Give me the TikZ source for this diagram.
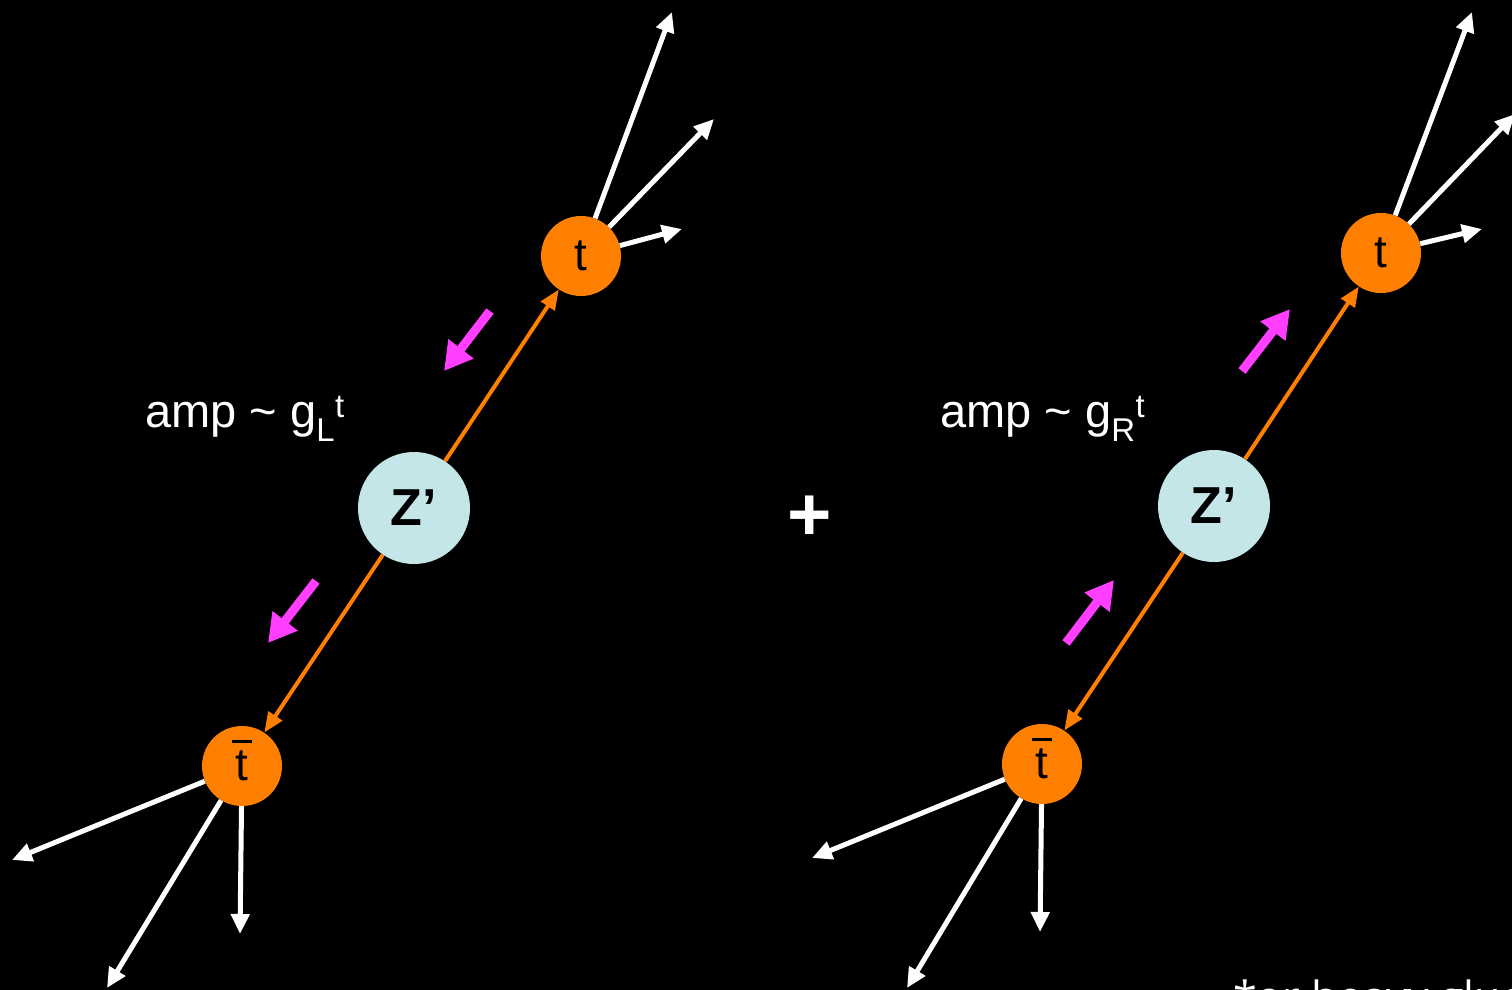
\documentclass[tikz,border=0pt]{standalone}
\usepackage{fontspec}
\setmainfont{Liberation Sans}
\newfontfamily\notefont{Open Sans}
\usetikzlibrary{arrows.meta}
\definecolor{zpblue}{HTML}{C5E6E8}
\definecolor{toporange}{HTML}{FF7F00}
\definecolor{helimag}{HTML}{FF3EFF}
\newcommand{\antitop}{\ooalign{t\cr\hidewidth\smash{\raisebox{0.83em}{\rule{0.42em}{0.065em}}}\hidewidth\cr}}

\begin{document}
\begin{tikzpicture}[
  x=1pt,y=-1pt,
  zprime/.style={circle,fill=zpblue,minimum size=112pt,inner sep=0pt,font=\fontsize{52}{52}\selectfont\bfseries},
  quark/.style={circle,fill=toporange,minimum size=80pt,inner sep=0pt,font=\fontsize{46}{46}\selectfont},
  prop/.style={-{Triangle[length=20pt,width=16pt]},draw=toporange,line width=4pt},
  decay/.style={-{Triangle[length=20pt,width=18pt]},draw=white,line width=5pt},
  spin/.style={-{Triangle[length=28pt,width=30pt]},draw=helimag,line width=9pt},
  amp/.style={anchor=base west,inner sep=0pt,text=white,font=\fontsize{47}{47}\selectfont}
]
\useasboundingbox (0,0) rectangle (1512,990);
\clip (0,0) rectangle (1512,990);
\fill[black] (0,0) rectangle (1512,990);

\node[zprime] (zl) at (414,508) {Z’};
\node[quark] (tl) at (581,256) {t};
\node[quark] (tbl) at (242,766) {\antitop};
\node[amp] (ampl) at (145,427) {amp \textasciitilde{} g\textsubscript{L}\textsuperscript{t}};

\node[zprime] (zr) at (1214,506) {Z’};
\node[quark] (tr) at (1381,253) {t};
\node[quark] (tbr) at (1042,764) {\antitop};
\node[amp] (ampr) at (940,427) {amp \textasciitilde{} g\textsubscript{R}\textsuperscript{t}};

\node[text=white,font=\fontsize{76}{76}\selectfont\bfseries] (plus) at (810,518) {+};
\node[anchor=base west,inner sep=0pt,text=white,font=\notefont\fontsize{43}{43}\selectfont] (note) at (1233,1012) {*or heavy gluon};

\coordinate (tl1) at (672,12);
\coordinate (tl2) at (714,119);
\coordinate (tl3) at (682,229);
\coordinate (tbl1) at (12,860);
\coordinate (tbl2) at (107,988);
\coordinate (tbl3) at (240,934);
\coordinate (tr1) at (1472,12);
\coordinate (tr2) at (1515,114);
\coordinate (tr3) at (1482,229);
\coordinate (tbr1) at (812,858);
\coordinate (tbr2) at (907,988);
\coordinate (tbr3) at (1040,932);

\coordinate (hl1) at (490,311);
\coordinate (hl2) at (444,371);
\coordinate (hl3) at (316,581);
\coordinate (hl4) at (268,643);
\coordinate (hr1) at (1242,371);
\coordinate (hr2) at (1290,309);
\coordinate (hr3) at (1066,643);
\coordinate (hr4) at (1114,580);

\draw[prop] (zl) -- (tl);
\draw[prop] (zl) -- (tbl);
\draw[prop] (zr) -- (tr);
\draw[prop] (zr) -- (tbr);

\foreach \i in {1,2,3} {
  \draw[decay] (tl) -- (tl\i);
  \draw[decay] (tbl) -- (tbl\i);
  \draw[decay] (tr) -- (tr\i);
  \draw[decay] (tbr) -- (tbr\i);
}

\draw[spin] (hl1) -- (hl2);
\draw[spin] (hl3) -- (hl4);
\draw[spin] (hr1) -- (hr2);
\draw[spin] (hr3) -- (hr4);
\end{tikzpicture}
\end{document}
